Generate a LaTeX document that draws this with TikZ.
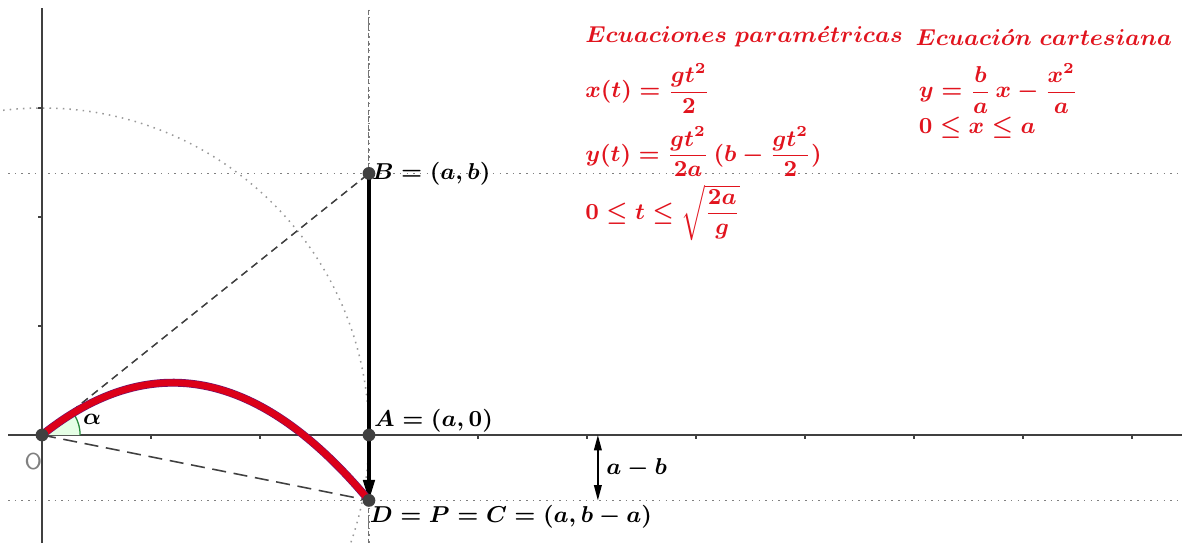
\documentclass[tikz,border=0pt]{standalone}
\usepackage{amsmath}
\usetikzlibrary{arrows.meta, positioning, calc}
\definecolor{eqred}{RGB}{225,20,30}
\definecolor{curvered}{RGB}{220,0,25}
\definecolor{curveedge}{RGB}{110,20,110}
\definecolor{anglegreen}{RGB}{40,140,60}
\tikzstyle{axis} = [black!75, line width=0.6pt]
\tikzstyle{guide} = [gray, dotted, line width=0.6pt]
\tikzstyle{pt} = [circle, fill=black!75, inner sep=0pt, minimum size=5pt]
\tikzstyle{lbl} = [font=\fontsize{9.5}{11}\selectfont\boldmath, inner sep=1pt]
\tikzstyle{eq} = [text=eqred, font=\fontsize{9}{11}\selectfont\boldmath, anchor=west, inner sep=0pt]

\begin{document}
\begin{tikzpicture}[x=1.5cm, y=1.5cm]
    \useasboundingbox (-0.385,-0.991) rectangle (10.459,3.991);
    \clip (-0.385,-0.991) rectangle (10.459,3.991);
    \def\a{3}
    \def\b{2.4}
    \coordinate (O) at (0,0);
    \coordinate (A) at (\a,0);
    \coordinate (B) at (\a,\b);
    \coordinate (D) at (\a,\b-\a);
    \coordinate (M1) at (5.1,0);
    \coordinate (M2) at (5.1,\b-\a);
    % guide lines and circle
    \draw[guide] (-0.31,\b) -- (10.459,\b);
    \draw[guide] (-0.31,\b-\a) -- (10.459,\b-\a);
    \draw[guide] (\a,3.9) -- (\a,-0.991);
    \draw[black!55, dash pattern=on 2pt off 1pt, line width=0.4pt] (\a,3.9) -- (\a,-0.991);
    \draw[guide, gray!80] (O) circle[radius=\a];
    % axes
    \draw[axis] (-0.31,0) -- (10.459,0);
    \draw[axis] (0,-0.991) -- (0,3.917);
    \foreach \i in {1,...,10}
        \draw[axis] (\i,0) -- (\i,-0.035);
    \foreach \j in {1,2,3}
        \draw[axis] (0,\j) -- (-0.035,\j);
    % angle
    \fill[green!10] (O) -- (0.35,0) arc[start angle=0, end angle=38.66, radius=0.35] -- cycle;
    \draw[anglegreen, line width=0.5pt] (0.35,0) arc[start angle=0, end angle=38.66, radius=0.35];
    \draw[black!75, dash pattern=on 3pt off 2pt, line width=0.6pt] (O) -- (B);
    \draw[black!75, dash pattern=on 5.5pt off 3pt, line width=0.6pt] (O) -- (D);
    % vector
    \draw[line width=1.2pt, -{Triangle[length=8pt, width=4.5pt]}] (B) -- (D);
    \draw[<->, >={Triangle[length=6pt, width=3pt]}, line width=0.6pt] (M1) -- (M2)
        node[midway, right=2pt, lbl] (ab) {$a-b$};
    % trajectory
    \draw[curveedge, line width=3.1pt] plot[domain=0:\a, samples=80] (\x, {\b/\a*\x - \x*\x/\a});
    \draw[curvered, line width=2.6pt] plot[domain=0:\a, samples=80] (\x, {\b/\a*\x - \x*\x/\a});
    % points
    \foreach \p in {O, A, B, D}
        \node[pt] at (\p) {};
    \node[text=gray, font=\fontsize{9}{10}\selectfont\sffamily] (labO) at (-0.08,-0.24) {O};
    \node[lbl] (alpha) at (0.46,0.14) {$\alpha$};
    \node[lbl, anchor=west] (labB) at (B) {$B=(a,b)$};
    \node[lbl, anchor=south west] (labA) at ($(A)+(0.02,0)$) {$A=(a,0)$};
    \node[lbl, anchor=north west] (labD) at ($(D)+(-0.02,-0.02)$) {$D=P=C=(a,b-a)$};
    % equations
    \node[eq] (hdr1) at (4.98,3.65) {$Ecuaciones\ param\acute{e}tricas$};
    \node[eq] (hdr2) at (8.01,3.65) {$Ecuaci\acute{o}n\ cartesiana$};
    \node[eq] (xt) at (4.98,3.18) {$x(t)=\dfrac{gt^2}{2}$};
    \node[eq] (yt) at (4.98,2.6) {$y(t)=\dfrac{gt^2}{2a}\,(b-\dfrac{gt^2}{2})$};
    \node[eq] (tr) at (4.98,2.04) {$0\leq t\leq\sqrt{\dfrac{2a}{g}}$};
    \node[eq] (cart) at (8.04,3.18) {$y=\dfrac{b}{a}\,x-\dfrac{x^2}{a}$};
    \node[eq] (xr) at (8.04,2.82) {$0\leq x\leq a$};
\end{tikzpicture}
\end{document}
